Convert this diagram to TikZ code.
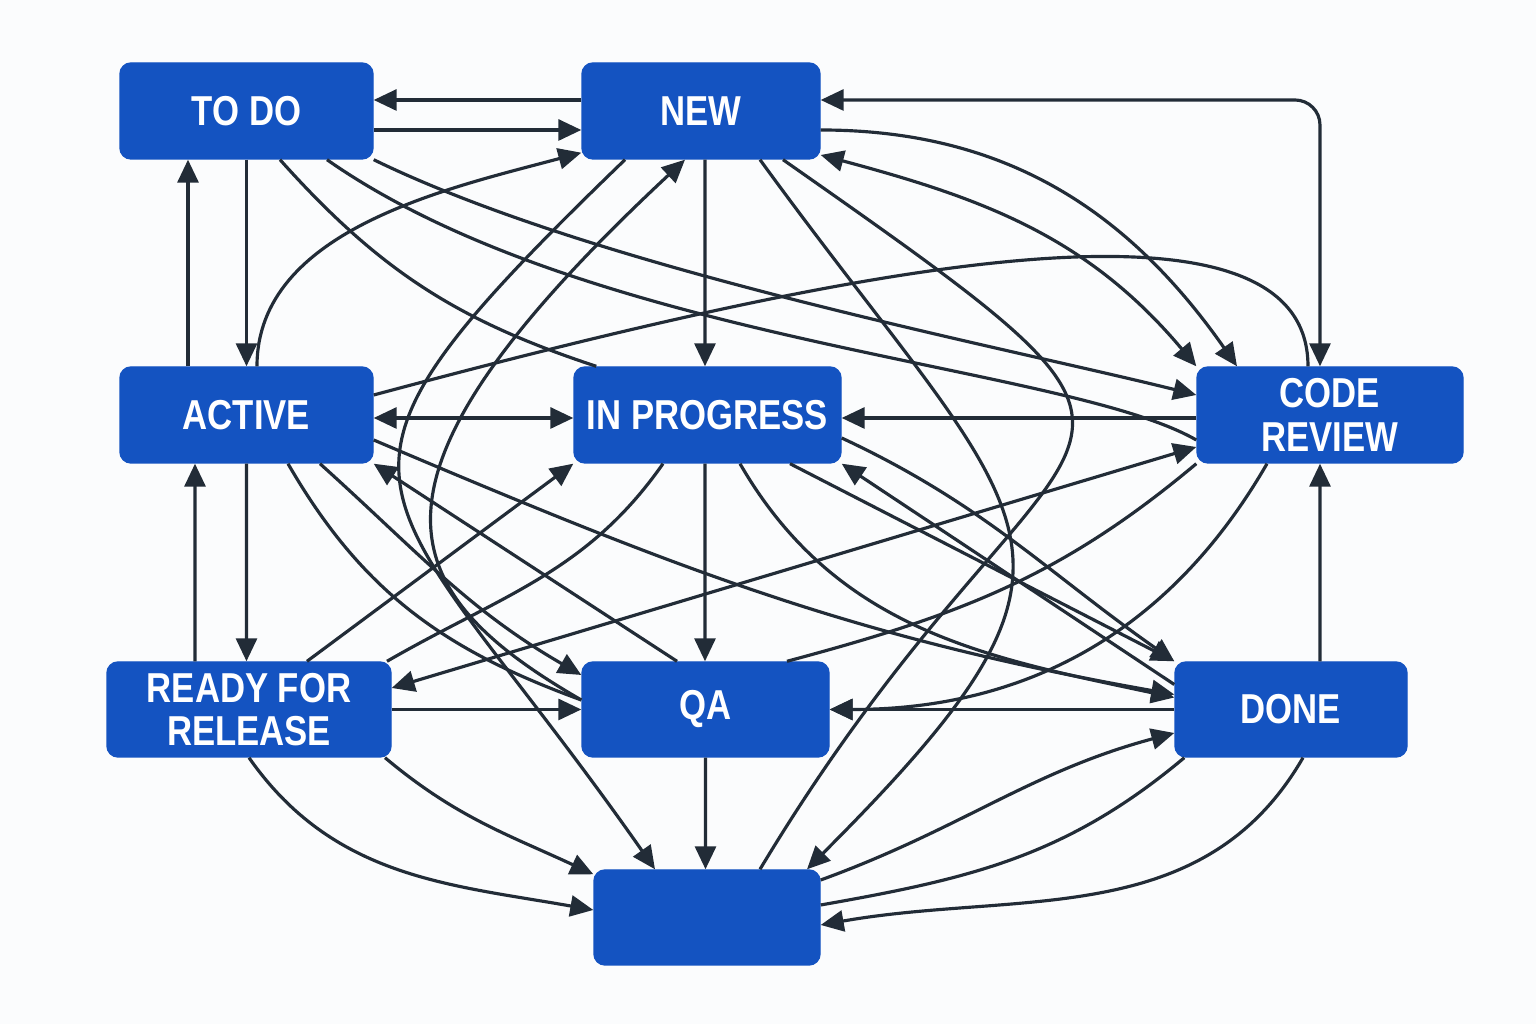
\documentclass[tikz,border=0pt]{standalone}
\usepackage{fontspec}
\newfontfamily\statefont{Liberation Sans}[FakeStretch=0.83]
\usetikzlibrary{arrows.meta}
\definecolor{stateblue}{HTML}{1453C1}
\definecolor{edgedark}{HTML}{222C37}
\definecolor{paper}{HTML}{FBFCFD}

\begin{document}
\begin{tikzpicture}[
		x=0.1mm, y=0.1mm,
		>={Triangle[length=2.3mm, width=2.1mm]},
		state/.style={
				fill=stateblue,
				draw=stateblue,
				rounded corners=1.1mm,
				text=white,
				font=\statefont\bfseries\fontsize{11.9}{12.3}\selectfont,
				align=center,
				inner sep=0pt,
				minimum height=9.6mm
			},
		link/.style={draw=edgedark, line width=0.9pt}
	]
	\fill[paper] (0,0) rectangle (1536,1024);
	\useasboundingbox (0,0) rectangle (1536,1024);

	\node[state, minimum width=25.3mm] (todo) at (246.5,913) {TO DO};
	\node[state, minimum width=23.8mm] (new) at (701,913) {NEW};
	\node[state, minimum width=25.3mm] (active) at (246.5,609) {ACTIVE};
	\node[state, minimum width=26.7mm] (inprog) at (707.5,609) {IN PROGRESS};
	\node[state, minimum width=26.6mm] (review) at (1330,609) {CODE\\REVIEW};
	\node[state, minimum width=28.4mm, minimum height=9.5mm] (ready) at (249,314.5) {READY FOR\\RELEASE};
	\node[state, minimum width=24.7mm, minimum height=9.5mm] (qa) at (705.5,314.5) {QA};
	\node[state, minimum width=23.2mm, minimum height=9.5mm] (done) at (1291,314.5) {DONE};
	\node[state, minimum width=22.6mm, minimum height=9.5mm] (blank) at (707,106.5) {};

	% straight links
	\draw[link, ->] ([yshift=1.1mm]new.west) -- ([yshift=1.1mm]todo.east);
	\draw[link, ->] ([yshift=-1.9mm]todo.east) -- ([yshift=-1.9mm]new.west);
	\draw[link, ->] ([xshift=-5.85mm]active.north) -- ([xshift=-5.85mm]todo.south);
	\draw[link, ->] (todo.south) -- (active.north);
	\draw[link, ->] ([xshift=0.4mm]new.south) -- ([xshift=-0.25mm]inprog.north);
	\draw[link, <->] ([yshift=-0.3mm]active.east) -- ([yshift=-0.3mm]inprog.west);
	\draw[link, ->] ([xshift=-5.4mm]ready.north) -- ([xshift=-5.15mm]active.south);
	\draw[link, ->] (active.south) -- ([xshift=-0.25mm]ready.north);
	\draw[link, ->] (ready.east) -- (qa.west);
	\draw[link, ->] ([xshift=-0.25mm]inprog.south) -- ([xshift=-0.05mm]qa.north);
	\draw[link, ->] (qa.south) -- ([xshift=-0.15mm]blank.north);
	\draw[link, ->] ([yshift=-0.3mm]review.west) -- ([yshift=-0.3mm]inprog.east);
	\draw[link, ->] (done.west) -- (qa.east);
	\draw[link, ->] ([xshift=2.9mm]done.north) -- ([xshift=-1mm]review.south);
	\draw[link, <->, rounded corners=2.5mm] ([yshift=1.1mm]new.east) -| ([xshift=-1mm]review.north);
	\draw[link, ->] ([xshift=-2.85mm]qa.north) -- (active.south east);
	\draw[link, ->] ([xshift=5.8mm]ready.north) -- (inprog.south west);
	\draw[link, ->] ([xshift=8.25mm]inprog.south) -- (done.north west);
	\draw[link, ->] ([yshift=2.5mm]done.west) -- (inprog.south east);
	\draw[link, <->] ([yshift=2.15mm]ready.east) -- ([yshift=-3.2mm]review.west);

	% curved links
	\draw[link, ->] ([xshift=1.05mm]active.north) to[out=90, in=195, looseness=0.9] ([yshift=0.7mm]new.south west);
	\draw[link] ([yshift=2mm]active.east) to[out=15, in=90, out distance=45mm, in distance=20mm] ([xshift=-2.2mm]review.north);
	\draw[link, ->] ([yshift=-1.9mm]new.east) to[out=0, in=125] ([xshift=-9.3mm]review.north);
	\draw[link, <->] ([yshift=-4.4mm]new.east) to[out=-15, in=130] (review.north west);
	\draw[link] ([xshift=3.35mm]todo.south) to[bend right=15] ([xshift=2.3mm]inprog.north west);
	\draw[link] ([xshift=8.05mm]todo.south) to[out=-35, in=150, out distance=32mm, in distance=15mm] ([yshift=-2.5mm]review.west);
	\draw[link, ->] (todo.south east) to[out=-26, in=166, out distance=25mm, in distance=20mm] ([yshift=2mm]review.west);
	\draw[link, ->] ([xshift=-7.6mm]new.south) to[out=-136, in=125, distance=49mm] ([xshift=-5.2mm]blank.north);
	\draw[link, ->] ([yshift=0.95mm]qa.west) to[out=150, in=-137, out distance=22mm, in distance=47mm] ([xshift=-1.6mm]new.south);
	\draw[link, ->] ([xshift=5.9mm]new.south) to[out=-54, in=45, distance=46mm] ([xshift=10mm]blank.north);
	\draw[link] ([xshift=8.2mm]new.south) to[out=-35, in=59, distance=59mm] ([xshift=5.3mm]blank.north);
	\draw[link, ->] ([yshift=-2.5mm]active.east) to[out=-23, in=170] ([yshift=1.5mm]done.west);
	\draw[link] ([xshift=4.15mm]active.south) to[out=-60, in=160] ([yshift=0.95mm]qa.west);
	\draw[link, ->] ([xshift=7.35mm]active.south) to[out=-42, in=150] ([yshift=3.45mm]qa.west);
	\draw[link] ([xshift=13.8mm]ready.north) to[out=30, in=-125] ([xshift=-4.45mm]inprog.south);
	\draw[link, ->] ([xshift=3.25mm]inprog.south) to[out=-60, in=168] ([yshift=1.2mm]done.west);
	\draw[link, ->] ([yshift=-2.3mm]inprog.east) to[out=-25, in=145] (done.north west);
	\draw[link] ([xshift=8.15mm]qa.north) to[out=15, in=-140] (review.south west);
	\draw[link, ->] ([xshift=-6.3mm]review.south) to[out=-120, in=0] (qa.east);
	\draw[link, ->] ([yshift=3.75mm]blank.east) to[out=20, in=195] ([yshift=-2.35mm]done.west);
	\draw[link] ([yshift=1.25mm]blank.east) to[out=10, in=-140] ([xshift=1mm]done.south west);
	\draw[link, ->] ([xshift=1.2mm]done.south) to[out=-120, in=10] ([yshift=-0.75mm]blank.east);
	\draw[link, ->] (ready.south) to[out=-55, in=170] ([yshift=0.75mm]blank.west);
	\draw[link, ->] ([xshift=13.6mm]ready.south) to[out=-40, in=155] ([yshift=-0.5mm]blank.north west);
\end{tikzpicture}
\end{document}
